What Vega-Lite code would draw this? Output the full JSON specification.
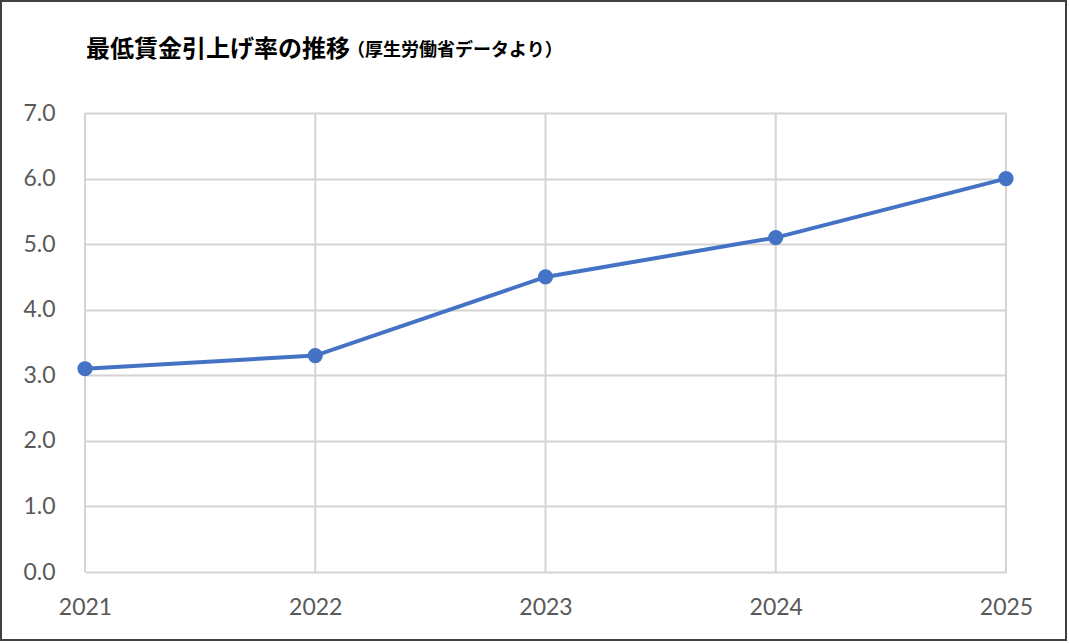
{
  "$schema": "https://vega.github.io/schema/vega-lite/v6.json",
  "width": 1065,
  "height": 639,
  "autosize": {"type": "none"},
  "padding": {"left": 1, "top": 1, "right": 3, "bottom": 3},
  "background": "white",
  "config": {"view": {"stroke": "#404040", "strokeWidth": 2, "fill": "white"}},
  "title": {
    "text": "最低賃金引上げ率の推移",
    "subtitle": "\u200b　　　　　　　　　　　　　　　（厚生労働省データより）",
    "anchor": "start",
    "frame": "group",
    "orient": "top",
    "offset": -61,
    "dx": 85,
    "font": "Noto Sans CJK JP",
    "fontSize": 24,
    "fontWeight": "bold",
    "color": "#000000",
    "subtitleFont": "Noto Sans CJK JP",
    "subtitleFontSize": 18,
    "subtitleFontWeight": "bold",
    "subtitleColor": "#000000",
    "subtitlePadding": -20
  },
  "data": {
    "values": [
      {"year": "2021", "rate": 3.1},
      {"year": "2022", "rate": 3.3},
      {"year": "2023", "rate": 4.5},
      {"year": "2024", "rate": 5.1},
      {"year": "2025", "rate": 6.0}
    ]
  },
  "encoding": {
    "x": {
      "field": "year",
      "type": "ordinal",
      "scale": {"type": "point", "padding": 0, "range": [84, 1005]},
      "axis": {
        "title": null,
        "orient": "bottom",
        "offset": -68,
        "labelAngle": 0,
        "labelFont": "Lato",
        "labelFontSize": 23,
        "labelColor": "#595959",
        "labelPadding": 24,
        "domain": false,
        "ticks": false,
        "grid": false
      }
    },
    "y": {
      "field": "rate",
      "type": "quantitative",
      "scale": {"domain": [0, 7], "range": [571, 112], "nice": false},
      "axis": {
        "title": null,
        "offset": -84,
        "values": [0, 1, 2, 3, 4, 5, 6, 7],
        "format": ".1f",
        "labelFont": "Lato",
        "labelFontSize": 23,
        "labelColor": "#595959",
        "labelPadding": 30,
        "domain": false,
        "ticks": false,
        "grid": true,
        "gridColor": "#d4d4d4",
        "gridWidth": 2
      }
    }
  },
  "layer": [
    {
      "mark": {"type": "rule", "color": "#d4d4d4", "strokeWidth": 2},
      "encoding": {
        "y": {"datum": 0, "type": "quantitative"},
        "y2": {"datum": 7}
      }
    },
    {"mark": {"type": "line", "color": "#4472C4", "strokeWidth": 4}},
    {"mark": {"type": "point", "filled": true, "opacity": 1, "size": 230, "color": "#4472C4"}}
  ]
}
